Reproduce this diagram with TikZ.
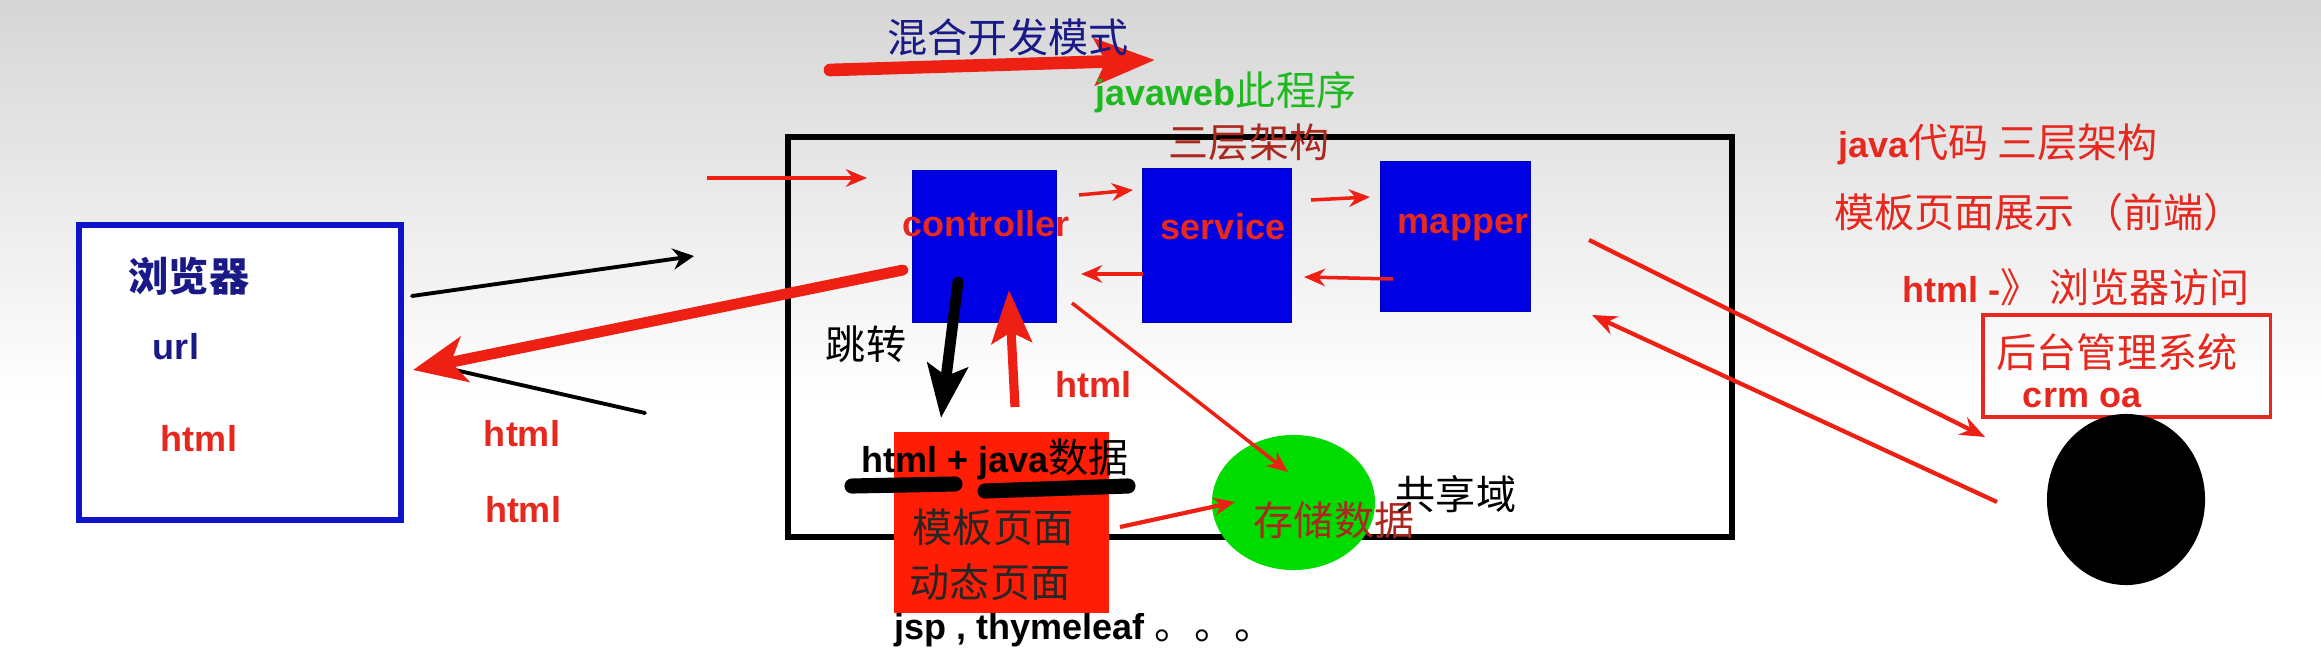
\documentclass[tikz,border=0pt]{standalone}
\usepackage{fontspec}
\setmainfont{Liberation Sans}
\newfontfamily\cjk{Noto Sans CJK SC}
\usetikzlibrary{arrows.meta,shapes.geometric}
\definecolor{ared}{RGB}{238,32,20}
\definecolor{tred}{RGB}{230,40,30}
\definecolor{dred}{RGB}{170,40,30}
\definecolor{cnavy}{RGB}{25,25,135}
\definecolor{bblue}{RGB}{15,20,200}
\definecolor{boxblue}{RGB}{0,0,228}
\definecolor{tgreen}{RGB}{30,185,30}
\definecolor{cgreen}{RGB}{0,220,0}
\definecolor{rfill}{RGB}{255,30,5}
\definecolor{bgtop}{RGB}{214,214,214}
\newcommand\Lf{\fontsize{10.24}{12}\selectfont\bfseries}
\newcommand\zh[1]{{\cjk\mdseries\fontsize{11.4}{13}\selectfont #1}}
\newcommand\zhb[1]{{\cjk\bfseries\fontsize{11.4}{13}\selectfont #1}}
\tikzset{
  lbl/.style={inner sep=0pt, outer sep=0pt},
  tierbox/.style={fill=boxblue, draw=boxblue!80!black, line width=0.3pt, inner sep=0pt},
  thinred/.style={draw=ared, line width=1pt, -{Stealth[length=6pt,width=5pt]}},
  longred/.style={draw=ared, line width=1.2pt, -{Stealth[length=7pt,width=5.5pt]}},
}
\begin{document}
\begin{tikzpicture}[x=0.01cm,y=-0.01cm]
\useasboundingbox (0,0) rectangle (2321,658);
\shade[top color=bgtop, bottom color=white] (0,0) rectangle (2321,400);
\fill[white] (0,400) rectangle (2321,658);

% frames
\node[draw=black, line width=1.6pt, minimum width=9.44cm, minimum height=4cm, inner sep=0pt] (server) at (1260,337) {};
\node[draw=bblue, fill=white, line width=1.5pt, minimum width=3.22cm, minimum height=2.95cm, inner sep=0pt] (browser) at (240,372.5) {};

% three tiers
\node[tierbox, minimum width=1.43cm, minimum height=1.51cm] (ctrl) at (984.5,246.5) {};
\node[tierbox, minimum width=1.48cm, minimum height=1.53cm] (svc) at (1217,245.5) {};
\node[tierbox, minimum width=1.49cm, minimum height=1.49cm] (mapper) at (1455.5,236.5) {};

% template, store, system, user
\node[fill=rfill, inner sep=0pt, minimum width=2.15cm, minimum height=1.81cm] (tmpl) at (1001.5,522.5) {};
\node[ellipse, fill=cgreen, inner sep=0pt, minimum width=1.63cm, minimum height=1.35cm] (store) at (1293.5,502.5) {};
\node[draw=tred, line width=0.9pt, inner sep=0pt, minimum width=2.87cm, minimum height=1.02cm] (sys) at (2126.5,366) {};
\node[ellipse, fill=black, inner sep=0pt, minimum width=1.58cm, minimum height=1.71cm] (user) at (2126,499.5) {};

% coordinates
\coordinate (t0) at (830,70);   \coordinate (t1) at (1155,60);
\coordinate (b0) at (412,296);  \coordinate (b1) at (694,256);
\coordinate (r0) at (903,270);  \coordinate (r1) at (413,370);
\coordinate (k0) at (645,413);  \coordinate (k1) at (455,370);
\coordinate (i0) at (707,178);  \coordinate (i1) at (867,178);
\coordinate (cs0) at (1079,195); \coordinate (cs1) at (1133,190);
\coordinate (sm0) at (1311,200); \coordinate (sm1) at (1370,197);
\coordinate (sc0) at (1143,274); \coordinate (sc1) at (1081,274);
\coordinate (ms0) at (1393,279); \coordinate (ms1) at (1304,277);
\coordinate (d0) at (958,282);  \coordinate (d1) at (941,418);
\coordinate (u0) at (1015,407); \coordinate (u1) at (1009,290);
\coordinate (cg0) at (1072,303); \coordinate (cg1) at (1288,472);
\coordinate (tg0) at (1120,527); \coordinate (tg1) at (1235,502);
\coordinate (x0) at (1589,240); \coordinate (x1) at (1985,437);
\coordinate (y0) at (1997,502); \coordinate (y1) at (1592,315);

% arrows
\draw[ared, line width=3.6pt, line cap=round, -{Stealth[length=17pt,width=13pt,inset=3pt]}] (t0) -- (t1);
\draw[black, line width=1.1pt, line cap=round, -{Stealth[length=6pt,width=6pt]}] (b0) -- (b1);
\draw[black, line width=1.1pt, line cap=round] (k0) -- (k1);
\draw[ared, line width=3.1pt, line cap=round, -{Stealth[length=15pt,width=13pt,inset=4pt]}] (r0) -- (r1);
\draw[thinred] (i0) -- (i1);
\draw[thinred] (cs0) -- (cs1);
\draw[thinred] (sm0) -- (sm1);
\draw[thinred] (sc0) -- (sc1);
\draw[thinred] (ms0) -- (ms1);
\draw[black, line width=3.1pt, line cap=round, -{Stealth[length=15pt,width=11.4pt,inset=3pt]}] (d0) -- (d1);
\draw[ared, line width=2.6pt, -{Stealth[length=15pt,width=11.4pt,inset=3pt]}] (u0) -- (u1);
\draw[thinred] (cg0) -- (cg1);
\draw[ared, line width=1.2pt, -{Stealth[length=6pt,width=5pt]}] (tg0) -- (tg1);
\draw[longred] (x0) -- (x1);
\draw[longred] (y0) -- (y1);

% labels
\node[lbl, text=cnavy] (ttl) at (1008,37) {\zh{混合开发模式}};
\node[lbl, text=tgreen, anchor=base] (jw) at (1226,106) {\Lf javaweb\zh{此程序}};
\node[lbl, text=dred] (three) at (1249,142) {\zh{三层架构}};
\node[lbl, text=cnavy] (bname) at (189,276) {\zhb{浏览器}};
\node[lbl, text=cnavy, anchor=base] (url) at (176,360) {\Lf url};
\node[lbl, text=tred, anchor=base] (bhtml) at (199,452) {\Lf html};
\node[lbl, text=tred, anchor=base] (h1) at (522,447) {\Lf html};
\node[lbl, text=tred, anchor=base] (h2) at (523,522) {\Lf html};
\node[lbl, text=tred, anchor=base] (lc) at (986,237) {\Lf controller};
\node[lbl, text=tred, anchor=base] (ls) at (1223,240) {\Lf service};
\node[lbl, text=tred, anchor=base] (lm) at (1463,234) {\Lf mapper};
\node[lbl] (jump) at (866,344) {\zh{跳转}};
\node[lbl, text=tred, anchor=base] (h3) at (1093,398) {\Lf html};
\node[lbl, anchor=base] (hj) at (995,473) {\Lf html + java\zh{数据}};
\draw[black, line width=4.3pt, line cap=round] (852,486) -- (955,484);
\draw[black, line width=4.3pt, line cap=round] (985,491) -- (1128,486);
\node[lbl, text=black!85] (mb) at (993,527) {\zh{模板页面}};
\node[lbl, text=black!85] (dt) at (990,582) {\zh{动态页面}};
\node[lbl, anchor=base west] (jsp) at (894,639) {\Lf jsp , thymeleaf \zh{。。。}};
\node[lbl, text=dred] (cc) at (1334,520) {\zh{存储数据}};
\node[lbl] (gx) at (1456,494) {\zh{共享域}};
\node[lbl, text=tred, anchor=base west] (jc) at (1838,158) {\Lf java\zh{代码 三层架构}};
\node[lbl, text=tred, anchor=base west] (mz) at (1834,228) {\zh{模板页面展示 （前端）}};
\node[lbl, text=tred, anchor=base west] (hb) at (1902,303) {\Lf html -\zh{》 浏览器访问}};
\node[lbl, text=tred] (ht) at (2117,352) {\zh{后台管理系统}};
\node[lbl, text=tred, anchor=base] (crm) at (2082,408) {\Lf crm oa};
\end{tikzpicture}
\end{document}
